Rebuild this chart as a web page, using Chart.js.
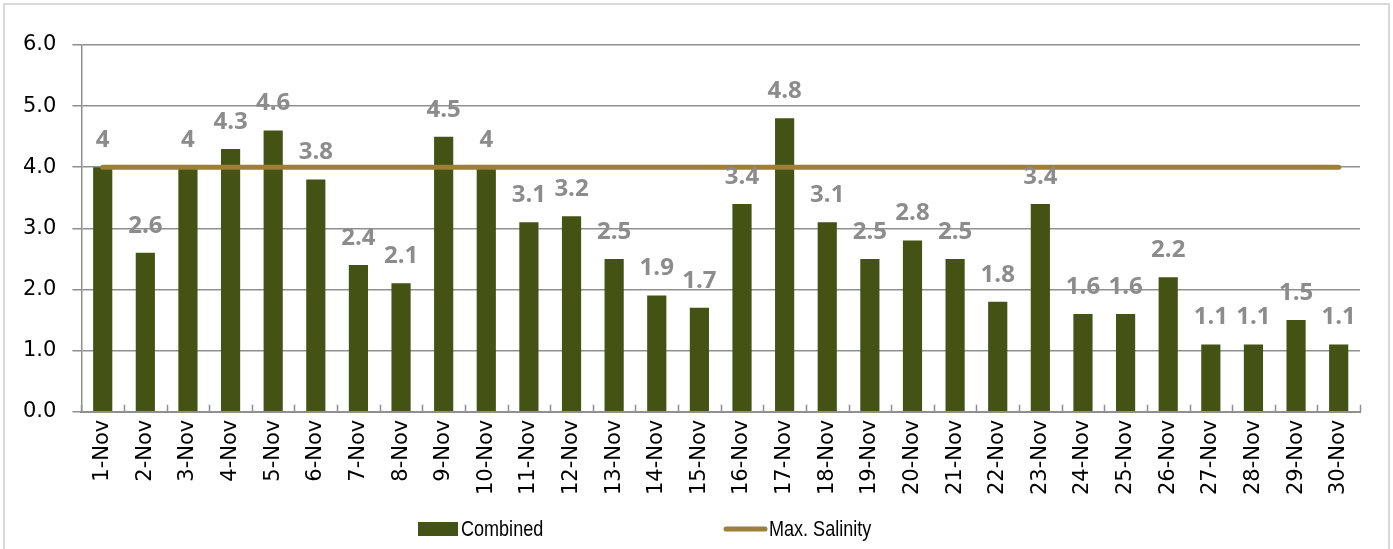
<!DOCTYPE html>
<html>
<head>
<meta charset="utf-8">
<script src="https://cdn.jsdelivr.net/npm/chart.js@4/dist/chart.umd.min.js"></script>
<style>
  html, body { margin: 0; padding: 0; background: #fff; }
  #wrap { width: 1393px; height: 549px; position: relative; }
</style>
</head>
<body>
<div id="wrap"><canvas id="myChart" width="1393" height="549"></canvas></div>
<script>
const days = ['1-Nov','2-Nov','3-Nov','4-Nov','5-Nov','6-Nov','7-Nov','8-Nov','9-Nov','10-Nov',
  '11-Nov','12-Nov','13-Nov','14-Nov','15-Nov','16-Nov','17-Nov','18-Nov','19-Nov','20-Nov',
  '21-Nov','22-Nov','23-Nov','24-Nov','25-Nov','26-Nov','27-Nov','28-Nov','29-Nov','30-Nov'];
const combined = [4, 2.6, 4, 4.3, 4.6, 3.8, 2.4, 2.1, 4.5, 4,
  3.1, 3.2, 2.5, 1.9, 1.7, 3.4, 4.8, 3.1, 2.5, 2.8,
  2.5, 1.8, 3.4, 1.6, 1.6, 2.2, 1.1, 1.1, 1.5, 1.1];
const maxSalinity = [4, 4, 4, 4, 4, 4, 4, 4, 4, 4,
  4, 4, 4, 4, 4, 4, 4, 4, 4, 4,
  4, 4, 4, 4, 4, 4, 4, 4, 4, 4];
const yTicks = [0, 1, 2, 3, 4, 5, 6];

const barColor = '#445314';
const lineColor = '#9c7f39';
const gridColor = '#8f8f8f';

// narrow text: squeeze Liberation Sans horizontally
function narrowText(ctx, text, x, y) {
    ctx.save();
    ctx.translate(x, y);
    ctx.scale(0.82, 1);
    ctx.fillText(text, 0, 0);
    ctx.restore();
}

// value labels, inner x ticks, legend and outer frame
const extras = {
    id: 'extras',
    afterDatasetsDraw(chart) {
        const ctx = chart.ctx;
        const meta = chart.getDatasetMeta(1);
        ctx.save();
        ctx.font = 'bold 24px "Open Sans", sans-serif';
        ctx.fillStyle = '#8c8c8c';
        ctx.textAlign = 'center';
        ctx.textBaseline = 'middle';
        meta.data.forEach((bar, i) => {
            ctx.fillText(String(combined[i]), bar.x, bar.y - 27);
        });
        ctx.restore();
    },
    afterDraw(chart) {
        const ctx = chart.ctx;
        const area = chart.chartArea;
        const step = (area.right - area.left) / days.length;
        ctx.save();
        ctx.strokeStyle = gridColor;
        ctx.lineWidth = 1.5;
        for (let i = 0; i <= days.length; i++) {
            const px = Math.round(area.left + i * step) + 0.5;
            ctx.beginPath();
            ctx.moveTo(px, area.bottom);
            ctx.lineTo(px, area.bottom - 7);
            ctx.stroke();
        }

        // legend
        const ly = 529;
        ctx.fillStyle = barColor;
        ctx.fillRect(418, ly - 7, 40, 14);
        ctx.strokeStyle = lineColor;
        ctx.lineWidth = 5;
        ctx.lineCap = 'round';
        ctx.beginPath();
        ctx.moveTo(726, ly);
        ctx.lineTo(765, ly);
        ctx.stroke();
        ctx.fillStyle = '#000';
        ctx.font = '22px "Liberation Sans", sans-serif';
        ctx.textBaseline = 'middle';
        ctx.textAlign = 'left';
        narrowText(ctx, chart.data.datasets[1].label, 461, ly + 1);
        narrowText(ctx, chart.data.datasets[0].label, 769, ly + 1);

        // frame
        ctx.strokeStyle = '#d9d9d9';
        ctx.lineWidth = 2;
        ctx.lineCap = 'butt';
        ctx.strokeRect(4, 4, 1385, 570);
        ctx.restore();
    }
};

const ctx = document.getElementById('myChart').getContext('2d');
window.myChart = new Chart(ctx, {
    data: {
        labels: days,
        datasets: [{
            type: 'line',
            label: 'Max. Salinity',
            data: maxSalinity,
            borderColor: lineColor,
            borderWidth: 5,
            borderCapStyle: 'round',
            pointRadius: 0,
            tension: 0,
            order: 0
        }, {
            type: 'bar',
            label: 'Combined',
            data: combined,
            backgroundColor: barColor,
            borderWidth: 0,
            barPercentage: 0.45,
            categoryPercentage: 1,
            order: 1
        }]
    },
    options: {
        responsive: false,
        animation: false,
        layout: { padding: { left: 7, right: 33, top: 45, bottom: 46 } },
        plugins: { legend: { display: false }, tooltip: { enabled: false } },
        scales: {
            x: {
                offset: true,
                grid: { display: false, drawTicks: false },
                border: { display: true, color: gridColor, width: 2 },
                ticks: {
                    color: '#000',
                    font: { family: '"DejaVu Sans", sans-serif', size: 21 },
                    minRotation: 90,
                    maxRotation: 90,
                    padding: 8,
                    autoSkip: false
                }
            },
            y: {
                min: 0,
                max: 6,
                afterBuildTicks: axis => { axis.ticks = yTicks.map(v => ({ value: v })); },
                grid: { color: gridColor, lineWidth: 1.5, tickLength: 9 },
                border: { display: true, color: gridColor, width: 1.5 },
                ticks: {
                    color: '#000',
                    font: { family: '"DejaVu Sans", sans-serif', size: 21 },
                    padding: 16,
                    callback: value => value.toFixed(1)
                }
            }
        }
    },
    plugins: [extras]
});
</script>
</body>
</html>
